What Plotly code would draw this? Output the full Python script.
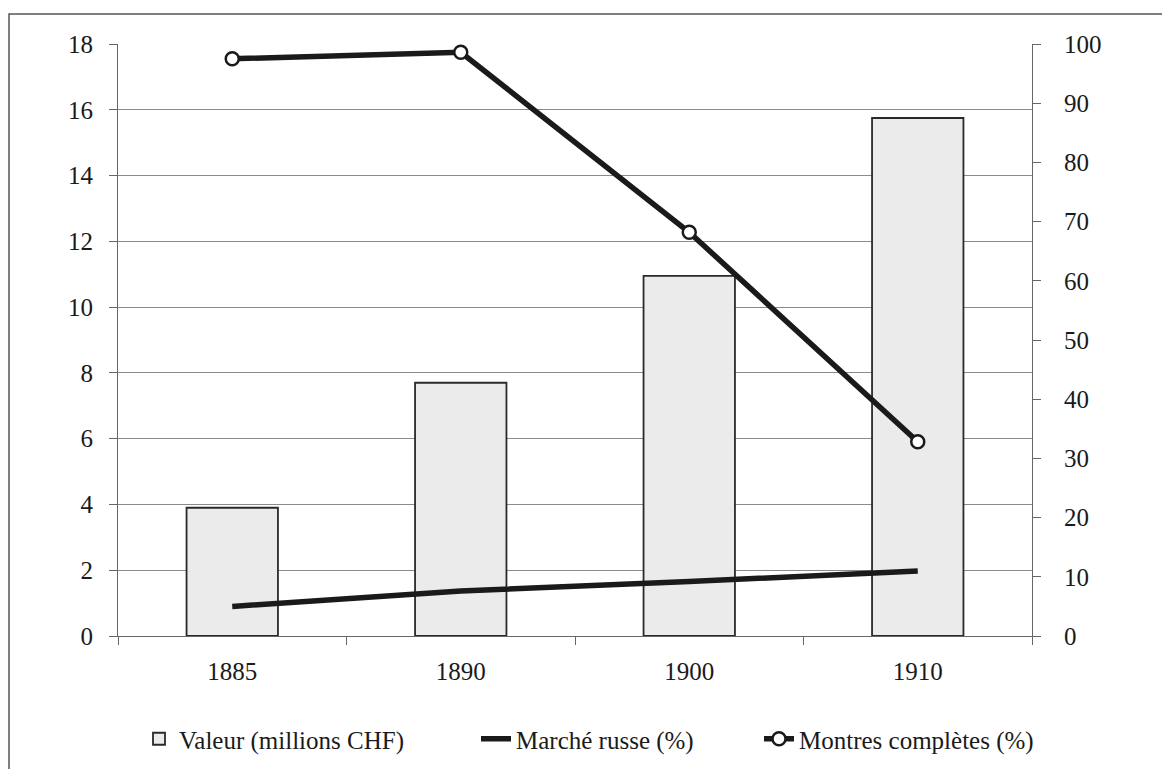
import plotly.graph_objects as go
from plotly.subplots import make_subplots

years = ["1885", "1890", "1900", "1910"]
valeur = [3.9, 7.7, 10.95, 15.75]
marche_russe = [5.0, 7.6, 9.2, 11.0]
montres_completes = [97.5, 98.6, 68.2, 32.8]

left_ticks = list(range(0, 19, 2))
right_ticks = list(range(0, 101, 10))

FONT = "Liberation Serif, Times New Roman, serif"
FS = 25

fig = make_subplots(specs=[[{"secondary_y": True}]])

fig.add_trace(go.Bar(
    x=years, y=valeur, name="Valeur (millions CHF)", legend="legend",
    marker=dict(color="#ebebeb", line=dict(color="#2a2a2a", width=1.8)),
), secondary_y=False)

fig.add_trace(go.Scatter(
    x=years, y=marche_russe, name="Marché russe (%)", mode="lines", legend="legend2",
    line=dict(color="#1a1a1a", width=5.5),
), secondary_y=True)

fig.add_trace(go.Scatter(
    x=years, y=montres_completes, name="Montres complètes (%)", mode="lines+markers",
    legend="legend3",
    line=dict(color="#1a1a1a", width=5.5),
    marker=dict(symbol="circle", size=13, color="white", line=dict(color="#1a1a1a", width=2.5)),
), secondary_y=True)

W, H = 1162, 769
ml, mr, mt, mb = 118, 130, 44, 133
pw, ph = W - ml - mr, H - mt - mb


def leg(text_left_px):
    return dict(
        orientation="h", xref="container", yref="container",
        x=(text_left_px - 41) / W, xanchor="left",
        y=(H - 739) / H, yanchor="middle",
        font=dict(family=FONT, size=FS, color="#1a1a1a"),
        itemwidth=30, bgcolor="rgba(0,0,0,0)", borderwidth=0,
    )


fig.update_layout(
    width=W, height=H,
    margin=dict(l=ml, r=mr, t=mt, b=mb, pad=0),
    paper_bgcolor="white", plot_bgcolor="white",
    font=dict(family=FONT, size=FS, color="#1a1a1a"),
    bargap=0.6,
    showlegend=True,
    legend=leg(180),
    legend2=leg(517),
    legend3=leg(800),
    shapes=[dict(
        type="rect", xref="paper", yref="paper",
        x0=(9 - ml) / pw, x1=2.0,
        y0=-2.0, y1=((H - mb) - 14) / ph,
        line=dict(color="#555555", width=1.5), fillcolor="rgba(0,0,0,0)",
        layer="below",
    )],
)

fig.update_xaxes(
    domain=[0, 1],
    type="category", tickson="boundaries", ticks="outside", ticklen=8,
    tickcolor="#666666", showline=True, linecolor="#666666", linewidth=1.2,
    showgrid=False, tickfont=dict(family=FONT, size=FS, color="#1a1a1a"),
    ticklabelstandoff=13,
)

fig.update_yaxes(
    range=[0, 18], tickvals=left_ticks, ticks="outside", ticklen=8,
    tickcolor="#666666", showline=True, linecolor="#666666", linewidth=1.2,
    showgrid=True, gridcolor="#8a8a8a", gridwidth=1.2, zeroline=False,
    tickfont=dict(family=FONT, size=FS, color="#1a1a1a"),
    ticklabelstandoff=11,
    secondary_y=False,
)

fig.update_yaxes(
    range=[0, 100], tickvals=right_ticks, ticks="outside", ticklen=8,
    tickcolor="#666666", showline=True, linecolor="#666666", linewidth=1.2,
    showgrid=False, zeroline=False,
    tickfont=dict(family=FONT, size=FS, color="#1a1a1a"),
    ticklabelstandoff=18,
    secondary_y=True,
)

fig.write_html(
    "out.html",
    config={"displayModeBar": False},
    post_script="document.body.style.margin='0';document.body.style.overflow='hidden';",
)
